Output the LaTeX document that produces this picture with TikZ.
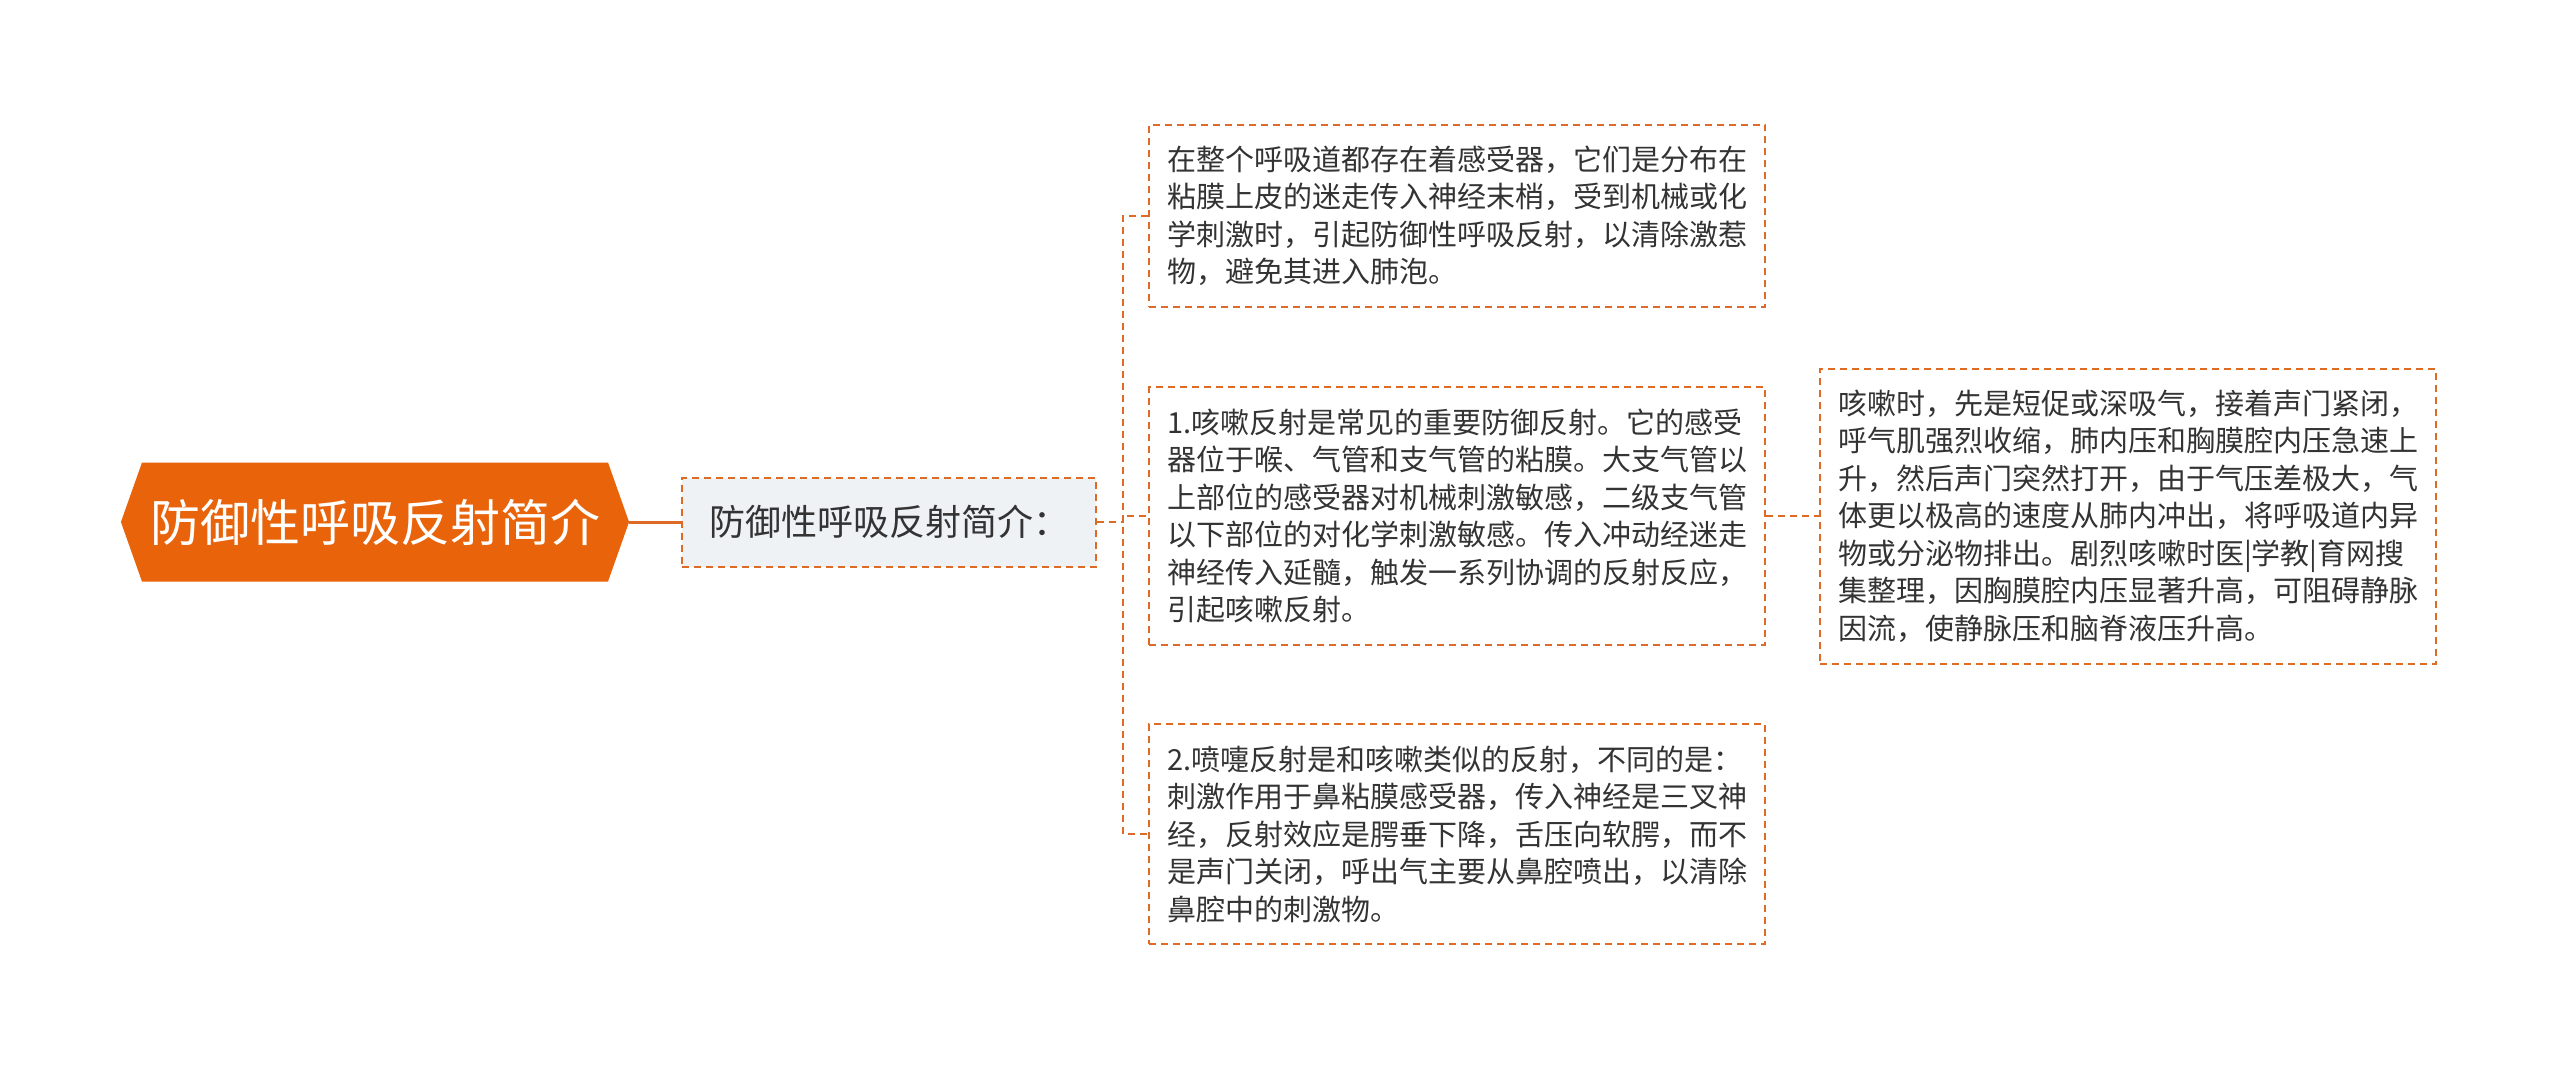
\documentclass[tikz,border=0pt]{standalone}
\usepackage{fontspec}
\newfontfamily\cjk{Noto Sans CJK SC}
\usepackage{tikz}
\usetikzlibrary{shapes.symbols}
\definecolor{rootorange}{HTML}{E8630A}
\definecolor{lineorange}{HTML}{DE6B25}
\definecolor{subfill}{HTML}{EEF2F5}
\definecolor{textdark}{HTML}{333333}

\begin{document}
\begin{tikzpicture}[x=0.5pt, y=-0.5pt,
        rootbox/.style={signal, signal to=west and east, signal pointer angle=141,
            fill=rootorange, text=white, minimum height=59.5pt, inner xsep=4pt,
            font=\cjk\fontsize{25pt}{30pt}\selectfont},
        introbox/.style={draw=lineorange, line width=1pt, dash pattern=on 3.5pt off 2.5pt,
            fill=subfill, text=textdark, minimum width=207pt, minimum height=44.5pt,
            font=\cjk\fontsize{18pt}{22pt}\selectfont},
        leafbox/.style={draw=lineorange, line width=1pt, dash pattern=on 3.5pt off 2.5pt,
            text=textdark, text width=290pt, align=left, inner xsep=9pt, inner ysep=10pt,
            font=\cjk\fontsize{14.5pt}{18.75pt}\selectfont},
        link/.style={draw=lineorange, line width=1pt, dash pattern=on 3.5pt off 2.5pt},
        rootlink/.style={draw=lineorange, line width=1.5pt}]

        \fill[white] (0,0) rectangle (2560,1067);

        \node[rootbox] (Root) at (375,522) {防御性呼吸反射简介};
        \node[introbox] (Intro) at (889,522) {防御性呼吸反射简介：};

        \node[leafbox, minimum height=91.25pt] (A1) at (1457,216) {在整个呼吸道都存在着感受器，它们是分布在\\粘膜上皮的迷走传入神经末梢，受到机械或化\\学刺激时，引起防御性呼吸反射，以清除激惹\\物，避免其进入肺泡。};
        \node[leafbox, minimum height=128.75pt] (A2) at (1457,516) {1.咳嗽反射是常见的重要防御反射。它的感受\\器位于喉、气管和支气管的粘膜。大支气管以\\上部位的感受器对机械刺激敏感，二级支气管\\以下部位的对化学刺激敏感。传入冲动经迷走\\神经传入延髓，触发一系列协调的反射反应，\\引起咳嗽反射。};
        \node[leafbox, minimum height=110pt] (A3) at (1457,834) {2.喷嚏反射是和咳嗽类似的反射，不同的是：\\刺激作用于鼻粘膜感受器，传入神经是三叉神\\经，反射效应是腭垂下降，舌压向软腭，而不\\是声门关闭，呼出气主要从鼻腔喷出，以清除\\鼻腔中的刺激物。};
        \node[leafbox, minimum height=147.5pt] (B1) at (2128,516) {咳嗽时，先是短促或深吸气，接着声门紧闭，\\呼气肌强烈收缩，肺内压和胸膜腔内压急速上\\升，然后声门突然打开，由于气压差极大，气\\体更以极高的速度从肺内冲出，将呼吸道内异\\物或分泌物排出。剧烈咳嗽时医|学教|育网搜\\集整理，因胸膜腔内压显著升高，可阻碍静脉\\因流，使静脉压和脑脊液压升高。};

        % connectors
        \coordinate (T) at (1123,522);
        \draw[rootlink] (Root.east) -- (Intro.west);
        \draw[link] (Intro.east) -- (T) -- (T |- A2.west) -- (A2.west);
        \draw[link] (A1.west) -| (T) |- (A3.west);
        \draw[link] (A2.east) -- (B1.west);
    \end{tikzpicture}
\end{document}
